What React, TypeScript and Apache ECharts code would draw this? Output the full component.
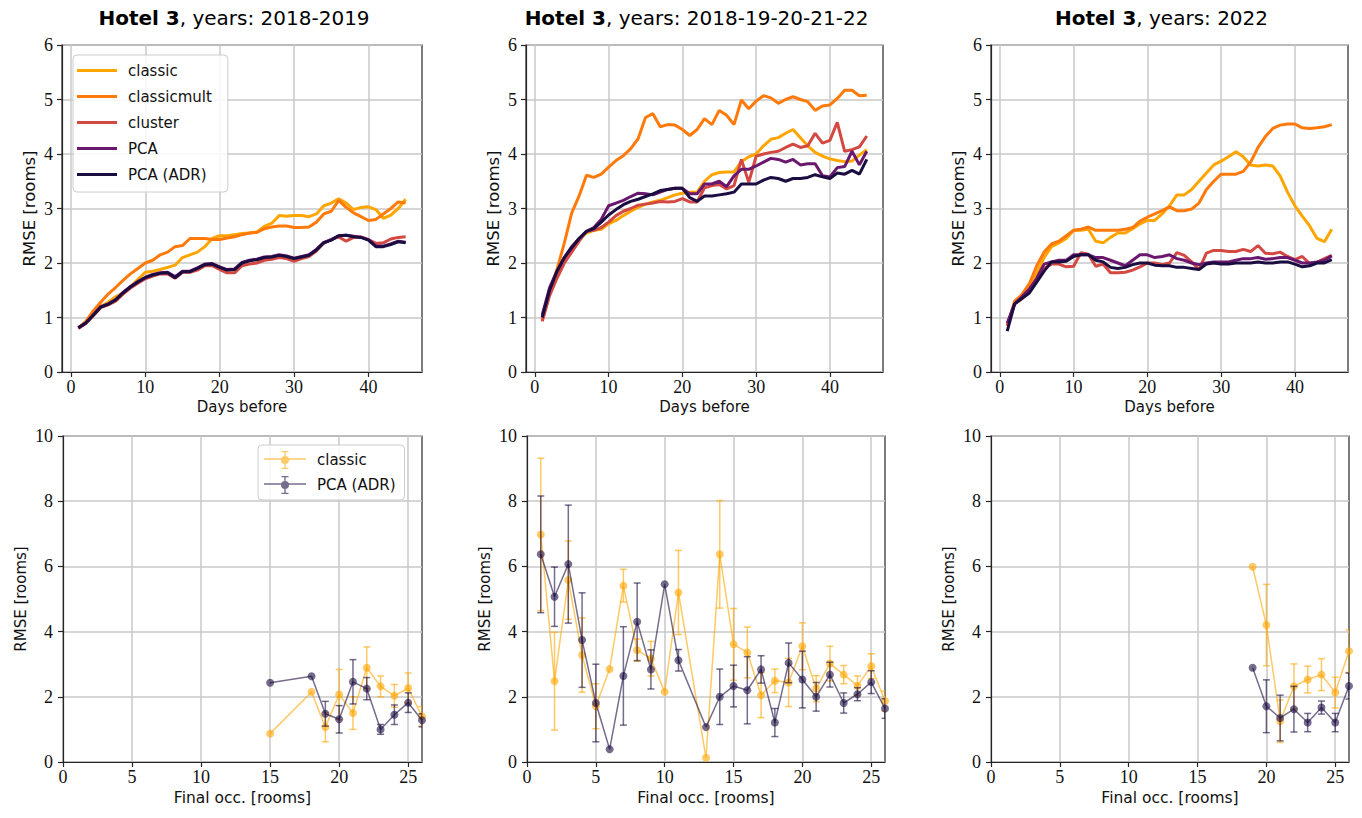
import React, { useEffect, useRef } from "react";
import * as echarts from "echarts";

// ---- top row: RMSE vs. days before arrival -------------------------------
const DAYS = Array.from({ length: 45 }, (_, i) => i + 1);
const DAY_TICKS = [0, 10, 20, 30, 40];

const METHODS = ["classic", "classicmult", "cluster", "PCA", "PCA (ADR)"];
const METHOD_COLORS = ["#FFA500", "#FF7A0A", "#D44842", "#6A176E", "#1B0C41"];

// years 2018-2019
const Y1_CLASSIC = [0.81, 0.9, 1.04, 1.2, 1.28, 1.38, 1.45, 1.56, 1.7, 1.83, 1.85, 1.88, 1.92, 1.96, 2.1, 2.15, 2.2, 2.3, 2.45, 2.5, 2.5, 2.52, 2.54, 2.55, 2.57, 2.67, 2.73, 2.87, 2.86, 2.87, 2.87, 2.85, 2.9, 3.05, 3.1, 3.18, 3.1, 2.98, 3.02, 3.03, 2.98, 2.82, 2.88, 3.0, 3.17];
const Y1_CLASSICMULT = [0.81, 0.93, 1.12, 1.28, 1.43, 1.55, 1.68, 1.8, 1.9, 2.0, 2.05, 2.15, 2.2, 2.3, 2.32, 2.45, 2.45, 2.45, 2.43, 2.43, 2.46, 2.48, 2.52, 2.55, 2.56, 2.63, 2.66, 2.68, 2.68, 2.65, 2.65, 2.66, 2.75, 2.9, 2.95, 3.15, 3.02, 2.92, 2.85, 2.78, 2.8, 2.9, 3.0, 3.12, 3.1];
const Y1_CLUSTER = [0.8, 0.89, 1.03, 1.18, 1.23, 1.3, 1.43, 1.54, 1.63, 1.71, 1.76, 1.8, 1.8, 1.72, 1.83, 1.83, 1.87, 1.95, 1.95, 1.88, 1.82, 1.82, 1.95, 1.98, 2.0, 2.05, 2.07, 2.1, 2.08, 2.03, 2.08, 2.12, 2.22, 2.37, 2.43, 2.48, 2.4, 2.47, 2.48, 2.43, 2.36, 2.37, 2.44, 2.47, 2.48];
const Y1_PCA = [0.81, 0.9, 1.05, 1.2, 1.25, 1.33, 1.46, 1.57, 1.66, 1.74, 1.79, 1.82, 1.83, 1.75, 1.85, 1.85, 1.91, 1.98, 1.99, 1.93, 1.88, 1.89, 2.01, 2.05, 2.07, 2.11, 2.12, 2.15, 2.13, 2.09, 2.12, 2.15, 2.25, 2.38, 2.43, 2.5, 2.51, 2.49, 2.47, 2.43, 2.31, 2.31, 2.35, 2.4, 2.38];
const Y1_PCA_ADR = [0.81, 0.9, 1.04, 1.19, 1.24, 1.32, 1.45, 1.56, 1.65, 1.73, 1.78, 1.81, 1.82, 1.73, 1.84, 1.84, 1.9, 1.97, 1.98, 1.92, 1.87, 1.88, 2.0, 2.04, 2.06, 2.1, 2.11, 2.14, 2.12, 2.08, 2.11, 2.14, 2.24, 2.37, 2.42, 2.5, 2.51, 2.48, 2.47, 2.42, 2.3, 2.3, 2.34, 2.39, 2.37];

// years 2018-19-20-21-22
const Y2_CLASSIC = [1.0, 1.5, 1.78, 2.05, 2.3, 2.45, 2.55, 2.6, 2.62, 2.72, 2.78, 2.87, 2.95, 3.02, 3.08, 3.12, 3.15, 3.2, 3.25, 3.28, 3.3, 3.3, 3.5, 3.62, 3.66, 3.67, 3.67, 3.86, 3.95, 4.0, 4.15, 4.27, 4.3, 4.38, 4.45, 4.3, 4.15, 4.03, 3.96, 3.91, 3.88, 3.86, 3.87, 3.98, 4.08];
const Y2_CLASSICMULT = [0.95, 1.5, 1.88, 2.37, 2.92, 3.23, 3.61, 3.57, 3.63, 3.76, 3.88, 3.97, 4.1, 4.28, 4.67, 4.74, 4.5, 4.54, 4.53, 4.45, 4.34, 4.45, 4.65, 4.54, 4.8, 4.71, 4.54, 4.99, 4.83, 4.97, 5.07, 5.03, 4.93, 5.0, 5.05, 5.0, 4.96, 4.8, 4.88, 4.9, 5.02, 5.17, 5.17, 5.07, 5.08];
const Y2_CLUSTER = [0.93, 1.4, 1.72, 2.0, 2.2, 2.4, 2.58, 2.6, 2.65, 2.75, 2.87, 2.95, 3.0, 3.06, 3.08, 3.1, 3.13, 3.12, 3.13, 3.18, 3.12, 3.12, 3.38, 3.42, 3.44, 3.36, 3.42, 3.9, 3.48, 3.96, 4.0, 4.03, 4.05, 4.12, 4.18, 4.12, 4.15, 4.38, 4.2, 4.25, 4.58, 4.05, 4.08, 4.13, 4.33];
const Y2_PCA = [1.05, 1.55, 1.85, 2.1, 2.3, 2.45, 2.58, 2.65, 2.8, 3.05, 3.1, 3.15, 3.22, 3.28, 3.27, 3.25, 3.3, 3.35, 3.37, 3.37, 3.27, 3.27, 3.45, 3.45, 3.5, 3.4, 3.6, 3.72, 3.72, 3.78, 3.85, 3.92, 3.9, 3.85, 3.9, 3.8, 3.82, 3.82, 3.6, 3.58, 3.75, 3.77, 4.05, 3.8, 4.05];
const Y2_PCA_ADR = [1.0, 1.5, 1.85, 2.1, 2.28, 2.45, 2.58, 2.63, 2.75, 2.88, 2.98, 3.07, 3.13, 3.17, 3.22, 3.27, 3.33, 3.35, 3.37, 3.37, 3.2, 3.13, 3.23, 3.23, 3.25, 3.27, 3.3, 3.45, 3.45, 3.45, 3.52, 3.57, 3.55, 3.5, 3.55, 3.55, 3.57, 3.62, 3.58, 3.55, 3.65, 3.63, 3.7, 3.63, 3.9];

// year 2022
const Y3_CLASSIC = [0.85, 1.25, 1.4, 1.55, 1.82, 2.1, 2.3, 2.37, 2.45, 2.6, 2.6, 2.62, 2.4, 2.37, 2.47, 2.55, 2.55, 2.63, 2.72, 2.78, 2.78, 2.9, 3.05, 3.25, 3.25, 3.35, 3.5, 3.65, 3.8, 3.87, 3.95, 4.04, 3.95, 3.8, 3.78, 3.8, 3.78, 3.6, 3.3, 3.05, 2.86, 2.68, 2.45, 2.39, 2.62];
const Y3_CLASSICMULT = [0.85, 1.3, 1.42, 1.62, 1.95, 2.2, 2.35, 2.4, 2.5, 2.6, 2.62, 2.66, 2.6, 2.6, 2.6, 2.6, 2.62, 2.65, 2.77, 2.84, 2.9, 2.96, 3.03, 2.96, 2.96, 2.99, 3.1, 3.35, 3.5, 3.63, 3.63, 3.63, 3.68, 3.85, 4.12, 4.32, 4.47, 4.53, 4.55, 4.55, 4.48, 4.47, 4.48, 4.5, 4.54];
const Y3_CLUSTER = [0.85, 1.25, 1.35, 1.5, 1.7, 1.9, 1.98, 1.98, 1.93, 1.94, 2.19, 2.16, 1.94, 1.98, 1.82, 1.82, 1.83, 1.87, 1.93, 2.0, 2.0, 1.97, 2.0, 2.19, 2.14, 2.02, 1.88, 2.18, 2.23, 2.23, 2.21, 2.21, 2.25, 2.21, 2.32, 2.18, 2.17, 2.2, 2.12, 2.06, 2.12, 1.99, 2.01, 2.08, 2.14];
const Y3_PCA = [0.9, 1.25, 1.38, 1.52, 1.72, 1.98, 2.02, 2.05, 2.05, 2.15, 2.15, 2.15, 2.1, 2.1, 2.05, 2.0, 1.95, 2.05, 2.15, 2.15, 2.1, 2.12, 2.15, 2.08, 2.05, 2.0, 1.97, 2.0, 2.02, 2.02, 2.02, 2.05, 2.08, 2.08, 2.1, 2.07, 2.08, 2.1, 2.1, 2.05, 2.0, 2.0, 2.02, 2.05, 2.13];
const Y3_PCA_ADR = [0.75, 1.25, 1.35, 1.45, 1.65, 1.85, 2.02, 2.02, 2.03, 2.12, 2.15, 2.15, 2.05, 2.02, 1.92, 1.9, 1.92, 1.97, 2.0, 2.0, 1.96, 1.95, 1.95, 1.92, 1.92, 1.9, 1.88, 1.98, 2.0, 1.98, 1.98, 2.0, 2.0, 2.0, 2.02, 2.0, 2.0, 2.02, 2.02, 1.98, 1.93, 1.95, 2.0, 2.0, 2.06];

// ---- bottom row: RMSE vs. final occupancy (mean ± std) -------------------
const OCC_TICKS = [0, 5, 10, 15, 20, 25];

const B1_OCC = [15, 18, 19, 20, 21, 22, 23, 24, 25, 26];
const B1_CLASSIC = [0.87, 2.15, 1.07, 2.07, 1.5, 2.89, 2.32, 2.03, 2.27, 1.4];
const B1_CLASSIC_ERR = [null, null, 0.45, 0.77, 0.5, 0.64, 0.32, 0.35, 0.46, 0.3];
const B1_PCA_ADR = [2.43, 2.63, 1.48, 1.31, 2.46, 2.25, 1.0, 1.45, 1.82, 1.28];
const B1_PCA_ADR_ERR = [null, null, 0.38, 0.42, 0.68, 0.34, 0.15, 0.3, 0.3, 0.2];

const B2_OCC = [1, 2, 3, 4, 5, 6, 7, 8, 9, 10, 11, 13, 14, 15, 16, 17, 18, 19, 20, 21, 22, 23, 24, 25, 26];
const B2_CLASSIC = [6.98, 2.48, 5.58, 3.28, 1.71, 2.85, 5.41, 3.43, 3.17, 2.15, 5.2, 0.13, 6.37, 3.61, 3.36, 2.05, 2.49, 2.44, 3.55, 2.25, 3.02, 2.68, 2.34, 2.94, 1.87];
const B2_CLASSIC_ERR = [2.34, 1.5, 1.2, 1.14, 0.69, null, 0.5, 0.34, 0.53, null, 1.29, null, 1.65, 1.1, 0.78, 0.69, 0.36, 0.74, 0.72, 0.4, 0.53, 0.28, 0.3, 0.38, 0.3];
const B2_PCA_ADR = [6.37, 5.07, 6.07, 3.74, 1.81, 0.39, 2.64, 4.3, 2.84, 5.45, 3.12, 1.07, 2.0, 2.33, 2.2, 2.84, 1.21, 3.04, 2.53, 2.0, 2.68, 1.81, 2.08, 2.45, 1.64];
const B2_PCA_ADR_ERR = [1.79, 0.91, 1.81, 1.45, 1.19, null, 1.51, 1.19, 0.6, null, 0.33, null, 0.85, 0.64, 1.03, 0.42, 0.43, 0.61, 0.87, 0.44, 0.38, 0.31, 0.2, 0.35, 0.3];

const B3_OCC = [19, 20, 21, 22, 23, 24, 25, 26];
const B3_CLASSIC = [5.99, 4.2, 1.25, 2.32, 2.53, 2.68, 2.13, 3.4];
const B3_CLASSIC_ERR = [null, 1.25, 0.65, 0.69, 0.41, 0.49, 0.47, 0.65];
const B3_PCA_ADR = [2.89, 1.71, 1.35, 1.62, 1.21, 1.67, 1.21, 2.33];
const B3_PCA_ADR_ERR = [null, 0.81, 0.7, 0.7, 0.28, 0.2, 0.28, 0.4];

const YEAR_LABELS = ["2018-2019", "2018-19-20-21-22", "2022"];

const TOP_DATA = [
  [Y1_CLASSIC, Y1_CLASSICMULT, Y1_CLUSTER, Y1_PCA, Y1_PCA_ADR],
  [Y2_CLASSIC, Y2_CLASSICMULT, Y2_CLUSTER, Y2_PCA, Y2_PCA_ADR],
  [Y3_CLASSIC, Y3_CLASSICMULT, Y3_CLUSTER, Y3_PCA, Y3_PCA_ADR],
];
const BOTTOM_DATA = [
  { occ: B1_OCC, classic: B1_CLASSIC, classicErr: B1_CLASSIC_ERR, pca: B1_PCA_ADR, pcaErr: B1_PCA_ADR_ERR },
  { occ: B2_OCC, classic: B2_CLASSIC, classicErr: B2_CLASSIC_ERR, pca: B2_PCA_ADR, pcaErr: B2_PCA_ADR_ERR },
  { occ: B3_OCC, classic: B3_CLASSIC, classicErr: B3_CLASSIC_ERR, pca: B3_PCA_ADR, pcaErr: B3_PCA_ADR_ERR },
];

// ---- layout / style -------------------------------------------------------
const TOP_BOXES = [
  { left: 62, top: 45, width: 360, height: 327 },
  { left: 526, top: 45, width: 357, height: 327 },
  { left: 991, top: 45, width: 357, height: 327 },
];
const BOTTOM_BOXES = [
  { left: 63, top: 436, width: 359, height: 326 },
  { left: 527, top: 436, width: 358, height: 326 },
  { left: 991, top: 436, width: 358, height: 326 },
];

const SANS = "DejaVu Sans";
const SERIF = "Liberation Serif";
const INK = "#111111";
const SPINE = "#262626";
const GRID_LINE = "#c9c9c9";
const CLASSIC_FADED = "rgba(255,165,0,0.6)";
const PCA_FADED = "rgba(27,12,65,0.6)";

// legend glyphs: a plain thick stroke, and line + marker + capped error bar
const LINE_ICON = "path://M0 0H40V3.2H0Z";
const ERR_ICON =
  "path://M0 7.3H42V8.7H0Z M20.3 0H21.7V18H20.3Z M17.5 0H24.5V1.3H17.5Z M17.5 16.7H24.5V18H17.5Z M17 9A4 4 0 1 1 25 9A4 4 0 1 1 17 9Z";

function axisCommon() {
  return {
    axisLine: { show: true, onZero: false, lineStyle: { color: SPINE, width: 1.2 } },
    splitLine: { show: true, lineStyle: { color: GRID_LINE, width: 1.5 } },
  };
}

function buildOption() {
  const grid: any[] = [];
  const xAxis: any[] = [];
  const yAxis: any[] = [];
  const series: any[] = [];
  const graphic: any[] = [];

  TOP_BOXES.forEach((box, i) => {
    grid.push({ ...box, show: true, borderColor: SPINE, borderWidth: 1.2, backgroundColor: "transparent" });
    xAxis.push({
      type: "value",
      gridIndex: i,
      min: -1.2,
      max: 47.2,
      ...axisCommon(),
      axisTick: { show: true, inside: false, length: 5, customValues: DAY_TICKS, lineStyle: { color: SPINE, width: 1.2 } },
      axisLabel: { customValues: DAY_TICKS, fontFamily: SERIF, fontSize: 18, color: INK, margin: 6 },
      name: "Days before",
      nameLocation: "middle",
      nameGap: 27,
      nameTextStyle: { fontFamily: SANS, fontSize: 15, color: INK },
    });
    yAxis.push({
      type: "value",
      gridIndex: i,
      min: 0,
      max: 6,
      interval: 1,
      ...axisCommon(),
      axisTick: { show: true, inside: false, length: 5, lineStyle: { color: SPINE, width: 1.2 } },
      axisLabel: { fontFamily: SERIF, fontSize: 18, color: INK, margin: 9 },
      name: "RMSE [rooms]",
      nameLocation: "middle",
      nameRotate: 90,
      nameGap: 24,
      nameTextStyle: { fontFamily: SANS, fontSize: 16.5, color: INK },
    });
    TOP_DATA[i].forEach((vals, m) => {
      series.push({
        type: "line",
        name: METHODS[m],
        xAxisIndex: i,
        yAxisIndex: i,
        data: DAYS.map((d, k) => [d, vals[k]]),
        symbol: "none",
        showSymbol: false,
        color: METHOD_COLORS[m],
        lineStyle: { width: 3, color: METHOD_COLORS[m] },
        z: 3 + m,
      });
    });
    graphic.push({
      type: "text",
      x: box.left + box.width / 2 - 8,
      y: 18,
      style: {
        text: `{b|Hotel 3}{r|, years: ${YEAR_LABELS[i]}}`,
        align: "center",
        verticalAlign: "middle",
        rich: {
          b: { fontFamily: SANS, fontWeight: "bold", fontSize: 20, fill: "#000" },
          r: { fontFamily: SANS, fontSize: 20, fill: "#000" },
        },
      },
    });
  });

  BOTTOM_BOXES.forEach((box, j) => {
    const gi = 3 + j;
    grid.push({ ...box, show: true, borderColor: SPINE, borderWidth: 1.2, backgroundColor: "transparent" });
    xAxis.push({
      type: "value",
      gridIndex: gi,
      min: 0,
      max: 26,
      ...axisCommon(),
      axisTick: { show: true, inside: false, length: 5, customValues: OCC_TICKS, lineStyle: { color: SPINE, width: 1.2 } },
      axisLabel: { customValues: OCC_TICKS, fontFamily: SERIF, fontSize: 18, color: INK, margin: 6 },
      name: "Final occ. [rooms]",
      nameLocation: "middle",
      nameGap: 28,
      nameTextStyle: { fontFamily: SANS, fontSize: 15.5, color: INK },
    });
    yAxis.push({
      type: "value",
      gridIndex: gi,
      min: 0,
      max: 10,
      interval: 2,
      ...axisCommon(),
      axisTick: { show: true, inside: false, length: 5, lineStyle: { color: SPINE, width: 1.2 } },
      axisLabel: { fontFamily: SERIF, fontSize: 18, color: INK, margin: 10 },
      name: "RMSE [rooms]",
      nameLocation: "middle",
      nameRotate: 90,
      nameGap: 35,
      nameTextStyle: { fontFamily: SANS, fontSize: 15, color: INK },
    });

    const d = BOTTOM_DATA[j];
    const groups = [
      { name: "classic", mean: d.classic, err: d.classicErr, color: CLASSIC_FADED },
      { name: "PCA (ADR)", mean: d.pca, err: d.pcaErr, color: PCA_FADED },
    ];
    groups.forEach((g, gk) => {
      series.push({
        type: "line",
        name: g.name,
        xAxisIndex: gi,
        yAxisIndex: gi,
        data: d.occ.map((x, k) => [x, g.mean[k]]),
        symbol: "circle",
        symbolSize: 8,
        showSymbol: true,
        clip: true,
        color: g.color,
        itemStyle: { color: g.color },
        lineStyle: { width: 1.5, color: g.color },
        z: 3 + gk * 2,
      });
      series.push({
        type: "custom",
        name: g.name,
        xAxisIndex: gi,
        yAxisIndex: gi,
        clip: true,
        z: 3 + gk * 2,
        data: d.occ.map((x, k) => [x, g.mean[k], g.err[k]]).filter((p) => p[2] != null),
        encode: { x: 0, y: 1 },
        renderItem: (params: any, api: any) => {
          const x = api.value(0);
          const y = api.value(1);
          const e = api.value(2);
          const hi = api.coord([x, y + e]);
          const lo = api.coord([x, y - e]);
          const cap = 3.5;
          const stroke = { stroke: g.color, lineWidth: 1.5 };
          return {
            type: "group",
            children: [
              { type: "line", shape: { x1: hi[0], y1: hi[1], x2: lo[0], y2: lo[1] }, style: stroke },
              { type: "line", shape: { x1: hi[0] - cap, y1: hi[1], x2: hi[0] + cap, y2: hi[1] }, style: stroke },
              { type: "line", shape: { x1: lo[0] - cap, y1: lo[1], x2: lo[0] + cap, y2: lo[1] }, style: stroke },
            ],
          };
        },
      });
    });
  });

  const legendBox = {
    orient: "vertical",
    selectedMode: false,
    backgroundColor: "rgba(255,255,255,0.85)",
    borderColor: "#cccccc",
    borderWidth: 1,
    borderRadius: 4,
    symbolKeepAspect: true,
    textStyle: { fontFamily: SANS, fontSize: 15, color: INK, padding: [0, 0, 0, 6] },
  };

  return {
    animation: false,
    backgroundColor: "#ffffff",
    grid,
    xAxis,
    yAxis,
    series,
    graphic,
    legend: [
      {
        ...legendBox,
        left: 73,
        top: 55,
        itemWidth: 40,
        itemHeight: 14,
        itemGap: 11,
        padding: [8, 16, 10, 4],
        data: METHODS.map((name, m) => ({
          name,
          icon: LINE_ICON,
          itemStyle: { color: METHOD_COLORS[m], borderWidth: 0 },
        })),
      },
      {
        ...legendBox,
        left: 258,
        top: 445,
        itemWidth: 42,
        itemHeight: 18,
        itemGap: 7,
        padding: [6, 9, 6, 6],
        data: [
          { name: "classic", icon: ERR_ICON, itemStyle: { color: CLASSIC_FADED, borderWidth: 0 } },
          { name: "PCA (ADR)", icon: ERR_ICON, itemStyle: { color: PCA_FADED, borderWidth: 0 } },
        ],
      },
    ],
  };
}

export default function App() {
  const ref = useRef<HTMLDivElement>(null);
  useEffect(() => {
    if (!ref.current) return;
    const chart = echarts.init(ref.current, undefined, { renderer: "svg" });
    chart.setOption(buildOption() as any);
    return () => chart.dispose();
  }, []);
  return (
    <div
      ref={ref}
      style={{ position: "absolute", left: 0, top: 0, width: 1362, height: 818, background: "#fff" }}
    />
  );
}
